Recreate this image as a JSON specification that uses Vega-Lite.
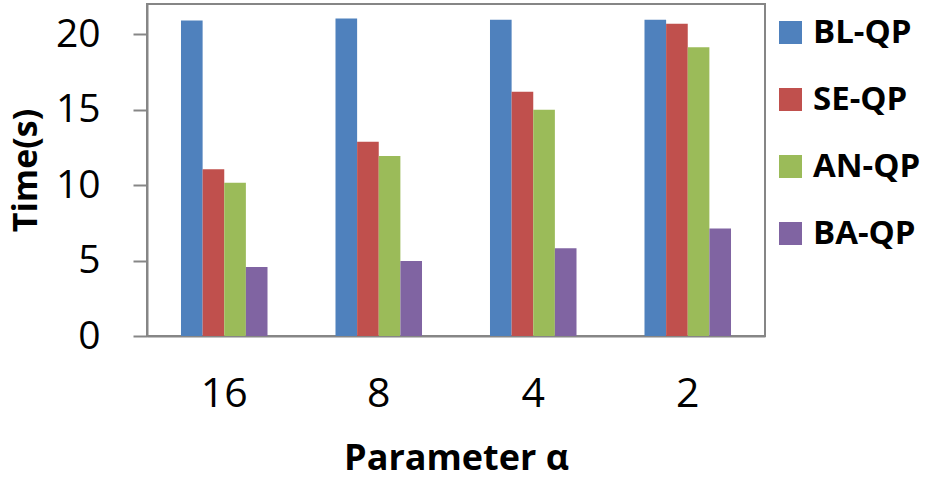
{
  "$schema": "https://vega.github.io/schema/vega-lite/v6.json",
  "width": 618,
  "height": 332,
  "autosize": {"type": "none"},
  "padding": {"left": 147, "top": 4, "right": 170, "bottom": 151},
  "background": "white",
  "config": {
    "font": "Open Sans",
    "view": {"stroke": "#868686", "strokeWidth": 2},
    "axis": {"grid": false, "domainColor": "#868686", "domainWidth": 2, "tickColor": "#868686", "tickWidth": 2, "labelColor": "black", "titleColor": "black"}
  },
  "data": {
    "values": [
      {"alpha": "16", "method": "BL-QP", "time": 20.9},
      {"alpha": "16", "method": "SE-QP", "time": 11.05},
      {"alpha": "16", "method": "AN-QP", "time": 10.15},
      {"alpha": "16", "method": "BA-QP", "time": 4.58},
      {"alpha": "8", "method": "BL-QP", "time": 21.04},
      {"alpha": "8", "method": "SE-QP", "time": 12.88},
      {"alpha": "8", "method": "AN-QP", "time": 11.92},
      {"alpha": "8", "method": "BA-QP", "time": 4.97},
      {"alpha": "4", "method": "BL-QP", "time": 20.95},
      {"alpha": "4", "method": "SE-QP", "time": 16.18},
      {"alpha": "4", "method": "AN-QP", "time": 15.0},
      {"alpha": "4", "method": "BA-QP", "time": 5.81},
      {"alpha": "2", "method": "BL-QP", "time": 20.95},
      {"alpha": "2", "method": "SE-QP", "time": 20.69},
      {"alpha": "2", "method": "AN-QP", "time": 19.14},
      {"alpha": "2", "method": "BA-QP", "time": 7.12}
    ]
  },
  "mark": {"type": "bar"},
  "encoding": {
    "x": {
      "field": "alpha",
      "type": "nominal",
      "sort": ["16", "8", "4", "2"],
      "scale": {"paddingInner": 0.44, "paddingOuter": 0.22},
      "axis": {
        "title": "Parameter α",
        "titleFontSize": 36,
        "titleFontWeight": "bold",
        "titlePadding": 27,
        "labelFontSize": 41,
        "labelAngle": 0,
        "labelPadding": 38,
        "ticks": false
      }
    },
    "xOffset": {
      "field": "method",
      "type": "nominal",
      "sort": ["BL-QP", "SE-QP", "AN-QP", "BA-QP"],
      "scale": {"paddingInner": 0, "paddingOuter": 0}
    },
    "y": {
      "field": "time",
      "type": "quantitative",
      "scale": {"domain": [0, 22], "nice": false},
      "axis": {
        "title": "Time(s)",
        "titleFontSize": 34,
        "titleFontWeight": "bold",
        "titlePadding": 12,
        "values": [0, 5, 10, 15, 20],
        "labelFontSize": 39,
        "labelPadding": 33,
        "tickSize": 14
      }
    },
    "color": {
      "field": "method",
      "type": "nominal",
      "sort": ["BL-QP", "SE-QP", "AN-QP", "BA-QP"],
      "scale": {"domain": ["BL-QP", "SE-QP", "AN-QP", "BA-QP"], "range": ["#4F81BD", "#C0504D", "#9BBB59", "#8064A2"]},
      "legend": {
        "title": null,
        "orient": "none",
        "legendX": 627,
        "legendY": 12,
        "padding": 0,
        "symbolType": "square",
        "symbolSize": 529,
        "symbolStrokeWidth": 0,
        "labelFontSize": 33,
        "labelFontWeight": "bold",
        "labelColor": "black",
        "labelOffset": 6,
        "rowPadding": 33
      }
    }
  }
}
